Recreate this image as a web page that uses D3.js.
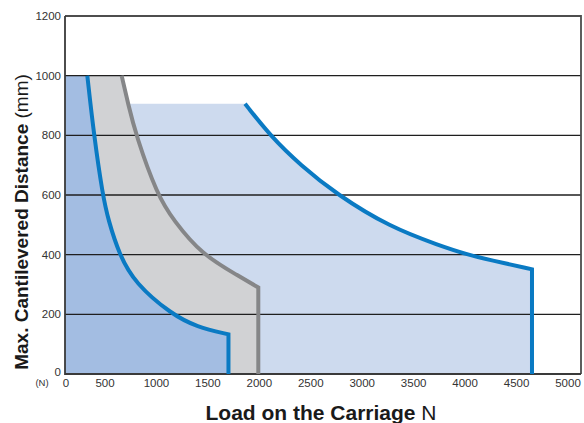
<!DOCTYPE html>
<html>
<head>
<meta charset="utf-8">
<title>Max. Cantilevered Distance</title>
<script src="https://cdn.jsdelivr.net/npm/d3@7"></script>
<style>
    body{ margin:0; background:#fff; }
    svg{ display:block; font-family: Arial, "Liberation Sans", sans-serif; }
</style>
</head>
<body>
<svg width="584" height="423"></svg>
<script>
// data: [load N, distance mm]
const blueSmall = [[279,1000],[362,800],[471,600],[532,516],[639,400],[792,304],[1148,200],[1391,158],[1700,133]];
const blueSmallEnd = 1700;
const grayMid = [[662,1000],[724,906],[801,800],[1008,600],[1164,516],[1440,400],[1812,326],[1990,290]];
const grayMidEnd = 1990;
const blueLarge = [[1861,906],[2110,797],[2400,700],[2752,602],[3270,492],[3756,430],[4015,401],[4242,382],[4650,351]];
const blueLargeEnd = 4650;
const topLimit = 1000;
const flatTop = 906;
const yTicks = [0,200,400,600,800,1000,1200];
const xTicks = [0,500,1000,1500,2000,2500,3000,3500,4000,4500,5000];

const svg = d3.select("svg");
const mLeft = 65, mRight = 581, mTop = 16, mBottom = 374;

// tick labels are not evenly spaced from the axis in the original
const x = d3.scaleLinear().domain([0,500,5000]).range([mLeft,105,568]);
const y = d3.scaleLinear().domain([0,1200]).range([mBottom,mTop]);

const line = d3.line().x(d=>x(d[0])).y(d=>y(d[1])).curve(d3.curveBasis);

// curve then straight tail points
function shape(pts, tail, head){
    let s = line(pts);
    if(head){ s = "M" + head.map(p=>x(p[0])+","+y(p[1])).join("L") + "L" + s.slice(1); }
    tail.forEach(p=>{ s += "L" + x(p[0]) + "," + y(p[1]); });
    return s;
}

// fills
svg.append("path")
    .attr("d", shape(blueLarge, [[blueLargeEnd,0],[0,0]], [[0,flatTop]]) + "Z")
    .attr("fill", "#cddaee");
svg.append("path")
    .attr("d", shape(grayMid, [[grayMidEnd,0],[0,0]], [[0,topLimit]]) + "Z")
    .attr("fill", "#d1d2d4");
svg.append("path")
    .attr("d", shape(blueSmall, [[blueSmallEnd,0],[0,0]], [[0,topLimit]]) + "Z")
    .attr("fill", "#a3bde2");

// grid lines
svg.append("g").selectAll("line")
    .data(yTicks.filter(d=>d>0 && d<1200))
    .join("line")
    .attr("x1", mLeft).attr("x2", mRight)
    .attr("y1", d=>y(d)).attr("y2", d=>y(d))
    .attr("stroke", "#1f1f1f").attr("stroke-width", 1.3);

// frame
svg.append("path")
    .attr("d", `M${mLeft},${mTop}H${mRight}V${mBottom}`)
    .attr("fill", "none").attr("stroke", "#4d4d4d").attr("stroke-width", 1.8);
svg.append("path")
    .attr("d", `M${mLeft},${mTop}V${mBottom}H${mRight}`)
    .attr("fill", "none").attr("stroke", "#3a3a3a").attr("stroke-width", 1.8);

// curves
svg.append("path")
    .attr("d", shape(blueLarge, [[blueLargeEnd,0]]))
    .attr("fill", "none").attr("stroke", "#0a7ac3").attr("stroke-width", 4);
svg.append("path")
    .attr("d", shape(grayMid, [[grayMidEnd,0]]))
    .attr("fill", "none").attr("stroke", "#858688").attr("stroke-width", 4);
svg.append("path")
    .attr("d", shape(blueSmall, [[blueSmallEnd,0]]))
    .attr("fill", "none").attr("stroke", "#0a7ac3").attr("stroke-width", 4);

// tick labels
svg.append("g").selectAll("text")
    .data(yTicks)
    .join("text")
    .attr("x", mLeft - 4)
    .attr("y", d=> d===0 ? y(d) + 2 : y(d) + 4)
    .attr("text-anchor", "end")
    .attr("font-size", 11.5)
    .attr("fill", "#333")
    .text(d=>d);

svg.append("g").selectAll("text")
    .data(xTicks)
    .join("text")
    .attr("x", d=> d===0 ? x(d) + 1 : x(d))
    .attr("y", 387)
    .attr("text-anchor", "middle")
    .attr("font-size", 11.5)
    .attr("fill", "#333")
    .text(d=>d);

svg.append("text")
    .attr("x", 42).attr("y", 386)
    .attr("text-anchor", "middle")
    .attr("font-size", 9.5)
    .attr("fill", "#333")
    .text("(N)");

// axis titles
const yt = svg.append("text")
    .attr("transform", "translate(28,222) rotate(-90)")
    .attr("text-anchor", "middle")
    .attr("font-size", 19)
    .attr("fill", "#1a1a1a");
yt.append("tspan").attr("font-weight", "bold").text("Max. Cantilevered Distance");
yt.append("tspan").text(" (mm)");

const xt = svg.append("text")
    .attr("x", 321).attr("y", 420)
    .attr("text-anchor", "middle")
    .attr("font-size", 21)
    .attr("fill", "#1a1a1a");
xt.append("tspan").attr("font-weight", "bold").text("Load on the Carriage");
xt.append("tspan").text(" N");
</script>
</body>
</html>
